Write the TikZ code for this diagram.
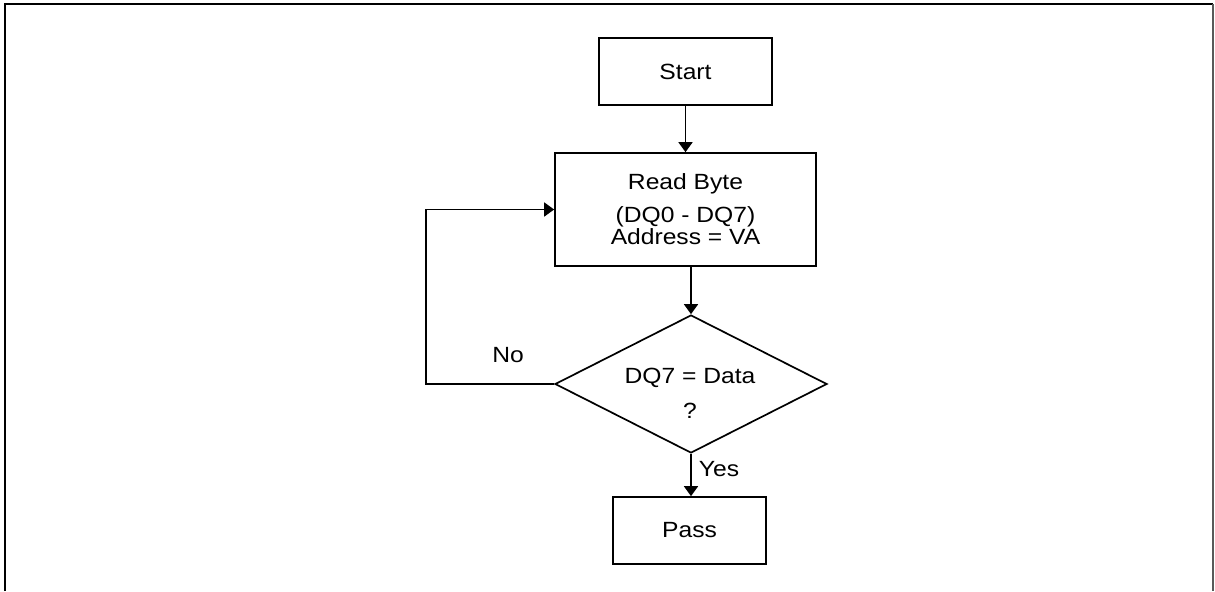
\documentclass[tikz,border=0pt]{standalone}
\usepackage{fontspec}
\setmainfont[FakeStretch=1.12]{Liberation Sans}
\usetikzlibrary{shapes.geometric,arrows.meta}
\tikzset{
  stepbox/.style={draw,line width=0.85pt,inner sep=0pt,align=center,
    font={\fontsize{11}{11}\selectfont\lineskiplimit=-20pt\relax}},
  flow/.style={line width=0.85pt,-{Triangle[width=7pt,length=5pt]}},
  tag/.style={font={\fontsize{11}{11}\selectfont\lineskiplimit=-20pt\relax}}
}
\begin{document}
\begin{tikzpicture}[x=0.5pt,y=-0.5pt]
\useasboundingbox(0,0) rectangle (1215,591);
\draw[line width=1.3pt](5,591)--(5,4)--(1213,4);
\draw[gray!70!black,line width=0.6pt](1213,4)--(1213,591);
\node[stepbox,minimum width=86.5pt,minimum height=33.5pt](start)at(685.5,71.5){Start};
\node[stepbox,minimum width=130.5pt,minimum height=56.5pt](read)at(685.5,209.5)
  {Read Byte\\[5.5pt] (DQ0 - DQ7)\\Address = VA};
\node[stepbox,diamond,aspect=1.97,minimum width=136pt,minimum height=69pt](check)at(691,384){};
\node[tag,align=center](checktxt)at(690,393){DQ7 = Data\\[6.5pt]?};
\node[stepbox,minimum width=76.5pt,minimum height=33.5pt](pass)at(689.5,530.5){Pass};
\draw[flow](start.south)--(read.north);
\draw[flow](read.south -| check.north)--(check.north);
\draw[flow](check.south)--(check.south |- pass.north);
\draw[flow](check.west)--++(-128,0)|-(read.west);
\node[tag,anchor=base](no)at(508,362){No};
\node[tag,anchor=base](yes)at(719,476){Yes};
\end{tikzpicture}
\end{document}
